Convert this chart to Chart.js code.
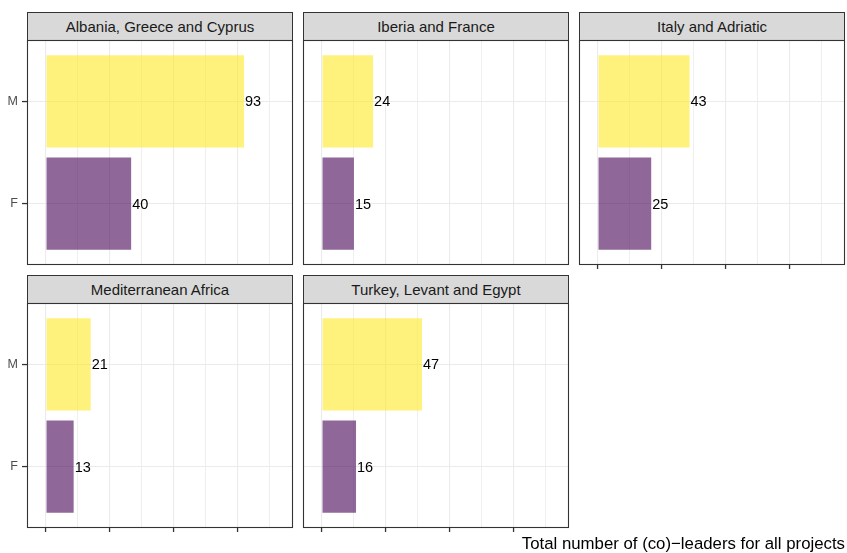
<!DOCTYPE html>
<html>
<head>
<meta charset="utf-8">
<script src="https://cdn.jsdelivr.net/npm/chart.js@4/dist/chart.umd.min.js"></script>
<style>
  html, body { margin: 0; padding: 0; background: #fff; }
  body { width: 847px; height: 553px; overflow: hidden; position: relative;
         font-family: "Liberation Sans", Arial, Helvetica, sans-serif; }
  .strip { position: absolute; box-sizing: border-box; background: #D9D9D9;
           border: 1px solid #333; color: #1A1A1A; font-size: 15px;
           text-align: center; white-space: nowrap; }
  .panel { position: absolute; }
  .xtitle { position: absolute; right: 2px; top: 536px; font-size: 16.8px;
            line-height: 1; color: #000; white-space: nowrap; }
</style>
</head>
<body>
<div id="facets"></div>
<div class="xtitle">Total number of (co)−leaders for all projects</div>
<script>
// Regions (facets) and genders
const regions = ['Albania, Greece and Cyprus', 'Iberia and France', 'Italy and Adriatic',
                 'Mediterranean Africa', 'Turkey, Levant and Egypt'];
const genders = ['M', 'F'];
// Number of (co)-leaders per region
const maleLeaders   = [93, 24, 43, 21, 47];
const femaleLeaders = [40, 15, 25, 13, 16];
// Shared x axis: major and minor breaks and limits
const majorBreaks = [0, 30, 60, 90];
const minorBreaks = [15, 45, 75, 105];
const xLimits = [-8.9, 116];

const genderColors = ['rgba(253,231,37,0.6)', 'rgba(68,1,84,0.6)'];

Chart.defaults.font.family = '"Liberation Sans", Arial, Helvetica, sans-serif';
Chart.defaults.animation = false;

// facet grid geometry (3 columns wrap)
const colLeft = [27, 303, 579];
const colWidth = [266, 266, 266];
const rowTop = [40, 303];
const plotH = 225;
const stripH = 29;
const yAxisW = 27;
const xAxisH = 9;

const valueLabels = {
  id: 'valueLabels',
  afterDatasetsDraw(chart) {
    const ctx = chart.ctx;
    const meta = chart.getDatasetMeta(0);
    const ds = chart.data.datasets[0].data;
    ctx.save();
    ctx.font = '14.5px "Liberation Sans", Arial, sans-serif';
    ctx.fillStyle = '#000';
    ctx.textAlign = 'left';
    ctx.textBaseline = 'middle';
    meta.data.forEach((bar, i) => {
      ctx.fillText(String(ds[i].x), bar.x + 1, bar.y + 1);
    });
    ctx.restore();
  }
};

const panelBorder = {
  id: 'panelBorder',
  afterDraw(chart) {
    const a = chart.chartArea;
    const ctx = chart.ctx;
    ctx.save();
    ctx.strokeStyle = '#333';
    ctx.lineWidth = 1.1;
    ctx.strokeRect(Math.round(a.left) + 0.5, Math.round(a.top) + 0.5,
                   Math.round(a.right - a.left) - 1, Math.round(a.bottom - a.top) - 1);
    ctx.restore();
  }
};

const facetsEl = document.getElementById('facets');

regions.forEach((region, r) => {
  const col = r % 3, row = Math.floor(r / 3);
  const left = colLeft[col], top = rowTop[row], w = colWidth[col];
  const showY = col === 0;
  const showX = row === 1 || (row === 0 && r + 3 >= regions.length);

  const strip = document.createElement('div');
  strip.className = 'strip';
  strip.style.left = left + 'px';
  strip.style.top = (top - stripH + 1) + 'px';
  strip.style.width = w + 'px';
  strip.style.height = stripH + 'px';
  strip.style.lineHeight = (stripH - 2) + 'px';
  strip.textContent = region;
  facetsEl.appendChild(strip);

  const holder = document.createElement('div');
  holder.className = 'panel';
  holder.style.left = (left - yAxisW) + 'px';
  holder.style.top = (top - 1) + 'px';
  holder.style.width = (yAxisW + w + 1) + 'px';
  holder.style.height = (plotH + 1 + xAxisH) + 'px';
  const canvas = document.createElement('canvas');
  holder.appendChild(canvas);
  facetsEl.appendChild(holder);

  const values = [maleLeaders[r], femaleLeaders[r]];

  new Chart(canvas, {
    type: 'bar',
    data: {
      datasets: [{
        data: genders.map((g, i) => ({ x: values[i], y: i + 1 })),
        backgroundColor: genderColors,
        borderWidth: 0,
        barPercentage: 0.9,
        categoryPercentage: 1
      }]
    },
    options: {
      indexAxis: 'y',
      responsive: true,
      maintainAspectRatio: false,
      layout: { padding: { top: 1, right: 1, left: 0, bottom: 0 } },
      plugins: { legend: { display: false }, tooltip: { enabled: false }, title: { display: false } },
      scales: {
        x: {
          type: 'linear',
          min: xLimits[0],
          max: xLimits[1],
          offset: false,
          afterBuildTicks: s => { s.ticks = [...majorBreaks, ...minorBreaks].sort((a, b) => a - b).map(v => ({ value: v })); },
          afterFit: s => { s.height = xAxisH; s.paddingLeft = 0; s.paddingRight = 0; },
          ticks: { display: false },
          border: { display: false },
          grid: {
            offset: false,
            color: '#EBEBEB',
            lineWidth: ctx => (ctx.tick && majorBreaks.includes(ctx.tick.value)) ? 1.1 : 0.8,
            drawTicks: true,
            tickLength: 4,
            tickWidth: 1.3,
            tickColor: ctx => (showX && ctx.tick && majorBreaks.includes(ctx.tick.value)) ? '#333' : 'rgba(0,0,0,0)'
          }
        },
        y: {
          type: 'linear',
          reverse: true,
          min: 0.4,
          max: 2.6,
          offset: false,
          afterBuildTicks: s => { s.ticks = genders.map((g, i) => ({ value: i + 1 })); },
          afterFit: s => { s.width = yAxisW; s.paddingTop = 0; s.paddingBottom = 0; },
          ticks: {
            display: showY,
            padding: 4,
            color: '#4D4D4D',
            font: { size: 12.5 },
            callback: v => genders[Math.round(v) - 1]
          },
          border: { display: false },
          grid: {
            offset: false,
            color: '#EBEBEB',
            lineWidth: 1.1,
            drawTicks: true,
            tickLength: 5,
            tickWidth: 1.3,
            tickColor: showY ? '#333' : 'rgba(0,0,0,0)'
          }
        }
      }
    },
    plugins: [valueLabels, panelBorder]
  });
});
</script>
</body>
</html>
